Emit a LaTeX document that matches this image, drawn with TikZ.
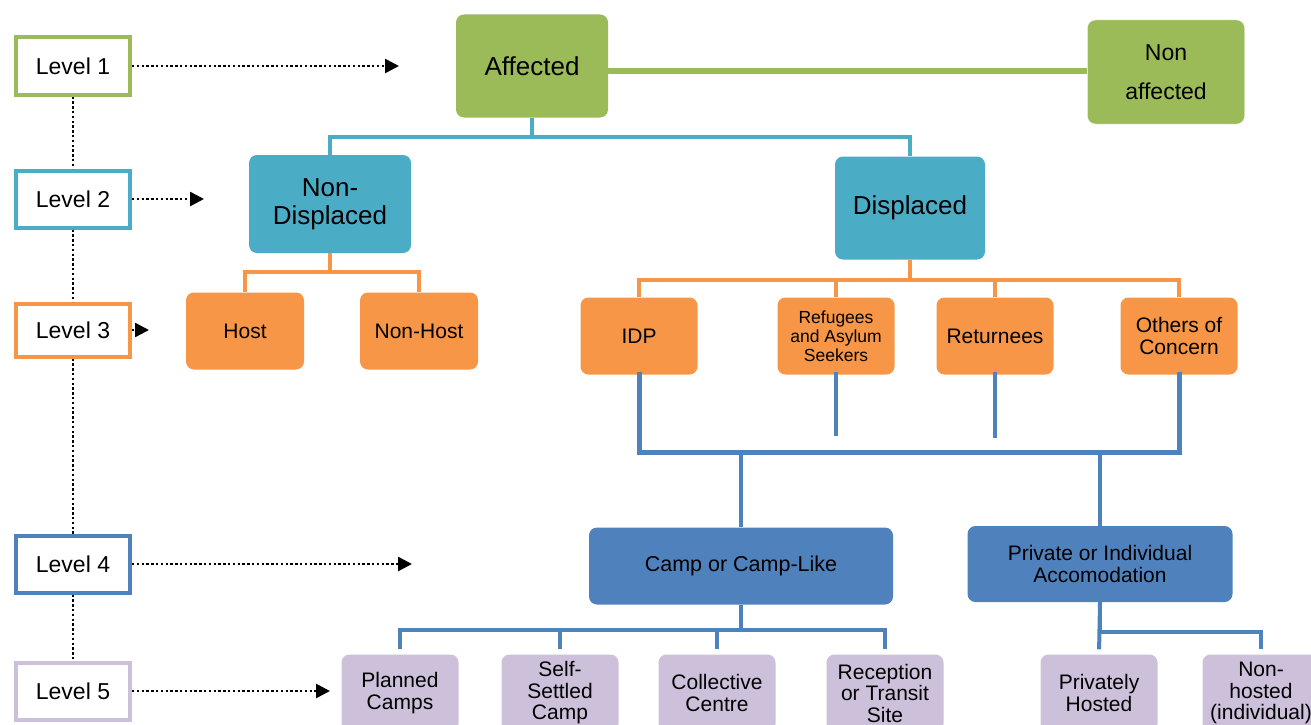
\documentclass[tikz,border=0pt]{standalone}
\usepackage{fontspec}
\setmainfont{Liberation Sans}
\usetikzlibrary{arrows.meta}
\definecolor{lvgreen}{HTML}{9BBB59}
\definecolor{lvcyan}{HTML}{4BACC6}
\definecolor{lvorange}{HTML}{F79646}
\definecolor{lvblue}{HTML}{4F81BD}
\definecolor{lvlilac}{HTML}{CCC0DA}
\begin{document}
\begin{tikzpicture}[x=1pt,y=-1pt,
	lvl/.style={draw,line width=4pt,fill=white,minimum width=114pt,minimum height=57pt,inner sep=0pt,font=\fontsize{23}{26}\selectfont},
	box/.style={rounded corners=8pt,inner sep=2pt,align=center},
	small/.style={box,minimum width=117pt,minimum height=77pt,font=\fontsize{21}{22}\selectfont},
	dotline/.style={line width=2.6pt,dash pattern=on 2.4pt off 2.4pt},
	dotarrow/.style={dotline,-{Triangle[length=14pt,width=14pt]}},
	conn/.style={line width=4pt}]
	\useasboundingbox (0,0) rectangle (1311,725);
	\clip (0,0) rectangle (1311,725);

	% levels on the left
	\node[lvl,draw=lvgreen] (l1) at (73,66) {Level 1};
	\node[lvl,draw=lvcyan] (l2) at (73,199) {Level 2};
	\node[lvl,draw=lvorange,minimum height=53pt] (l3) at (73,330) {Level 3};
	\node[lvl,draw=lvblue] (l4) at (73,564) {Level 4};
	\node[lvl,draw=lvlilac] (l5) at (73,691) {Level 5};
	\foreach \a/\b in {l1/l2,l2/l3,l3/l4,l4/l5}
		\draw[dotline] (\a) -- (\b);
	\foreach \i/\len in {1/267,2/72,3/17,4/280,5/198}
		\draw[dotarrow] (l\i.east) -- ++(\len,0);

	% level 1
	\node[box,fill=lvgreen,minimum width=152pt,minimum height=103pt,font=\fontsize{26}{30}\selectfont] (aff) at (532,66) {Affected};
	\node[box,fill=lvgreen,draw=black!8,minimum width=157pt,minimum height=104pt,font=\fontsize{23}{39}\selectfont] (naff) at (1166,72) {Non\\affected};
	\draw[conn,lvgreen,line width=5pt] ([yshift=-5pt]aff.east) -- ([yshift=-5pt]aff.east -| naff.west);

	% level 2
	\node[box,fill=lvcyan,minimum width=162pt,minimum height=98pt,font=\fontsize{26}{28}\selectfont] (nd) at (330,204) {Non-\\Displaced};
	\node[box,fill=lvcyan,minimum width=150pt,minimum height=103pt,font=\fontsize{26}{28}\selectfont] (dp) at (910,208) {Displaced};
	\draw[conn,lvcyan] (aff.south) -- ++(0,19) coordinate (c1) -| (nd.north);
	\draw[conn,lvcyan] (c1) -| (dp.north);

	% level 3
	\node[small,fill=lvorange,minimum width=118pt] (host) at (245,331) {Host};
	\node[small,fill=lvorange,minimum width=118pt] (nhost) at (419,331) {Non-Host};
	\node[small,fill=lvorange] (idp) at (639,336) {IDP};
	\node[small,fill=lvorange,font=\fontsize{17.5}{19}\selectfont] (ref) at (836,336) {Refugees\\and Asylum\\Seekers};
	\node[small,fill=lvorange] (ret) at (995,336) {Returnees};
	\node[small,fill=lvorange] (oth) at (1179,336) {Others of\\Concern};
	\draw[conn,lvorange] (nd.south) -- ++(0,19) coordinate (c2) -| (host.north);
	\draw[conn,lvorange] (c2) -| (nhost.north);
	\draw[conn,lvorange] (dp.south) -- ++(0,20) coordinate (c3);
	\foreach \n in {idp,ref,ret,oth}
		\draw[conn,lvorange] (c3) -| (\n.north);

	% level 4
	\node[small,fill=lvblue,minimum width=304pt,font=\fontsize{21.5}{22}\selectfont] (camp) at (741,566) {Camp or Camp-Like};
	\node[small,fill=lvblue,minimum width=265pt,minimum height=76pt] (priv) at (1100,564) {Private or Individual\\Accomodation};
	\coordinate (bus) at (0,452);
	\draw[conn,lvblue,line width=5pt] ([yshift=3pt]idp.south) -- (idp.south |- bus) -- (oth.south |- bus) -- ([yshift=3pt]oth.south);
	\draw[conn,lvblue] ([yshift=3pt]ref.south) -- ++(0,64);
	\draw[conn,lvblue] ([yshift=3pt]ret.south) -- ++(0,66);
	\draw[conn,lvblue] (camp.north) -- (camp.north |- bus);
	\draw[conn,lvblue] (priv.north) -- (priv.north |- bus);

	% level 5
	\node[small,fill=lvlilac] (pc) at (400,693) {Planned\\Camps};
	\node[small,fill=lvlilac,font=\fontsize{21}{21.5}\selectfont] (ss) at (560,693) {Self-\\Settled\\Camp};
	\node[small,fill=lvlilac] (cc) at (717,693) {Collective\\Centre};
	\node[small,fill=lvlilac,font=\fontsize{21}{21.5}\selectfont] (rt) at (885,693) {Reception\\or Transit\\Site};
	\node[small,fill=lvlilac] (ph) at (1099,693) {Privately\\Hosted};
	\node[small,fill=lvlilac,font=\fontsize{21}{21.5}\selectfont] (nh) at (1261,693) {Non-\\hosted\\(individual)};
	\draw[conn,lvblue] (camp.south) -- ++(0,25) coordinate (c4);
	\foreach \n in {pc,ss,cc,rt}
		\draw[conn,lvblue,shorten >=5pt] (c4) -| (\n.north);
	\draw[conn,lvblue] (priv.south) -- ++(0,30) coordinate (c5);
	\draw[conn,lvblue,shorten >=5pt] (priv.south) -- (ph.north);
	\draw[conn,lvblue,shorten >=5pt] (c5) -| (nh.north);
\end{tikzpicture}
\end{document}
